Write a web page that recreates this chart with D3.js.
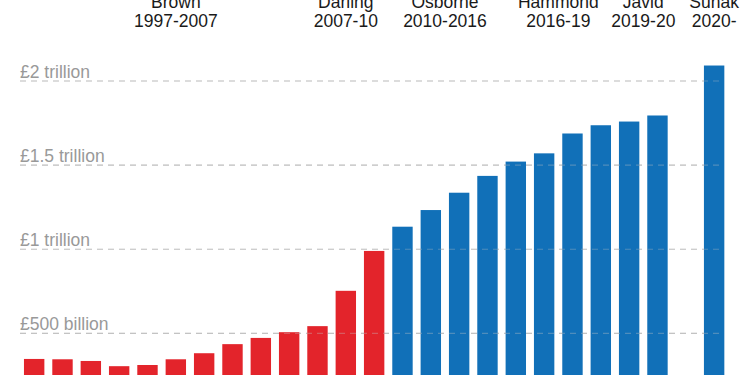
<!DOCTYPE html>
<html>
<head>
<meta charset="utf-8">
<script src="https://cdn.jsdelivr.net/npm/d3@7"></script>
<style>
  html, body { margin: 0; padding: 0; background: #fff; }
  svg { display: block; font-family: "Liberation Sans", Arial, sans-serif; }
</style>
</head>
<body>
<div id="chart"></div>
<script>
// Public sector debt by fiscal year, £ billion
const years = ['1997-98', '1998-99', '1999-00', '2000-01', '2001-02', '2002-03', '2003-04',
    '2004-05', '2005-06', '2006-07', '2007-08', '2008-09', '2009-10',
    '2010-11', '2011-12', '2012-13', '2013-14', '2014-15', '2015-16', '2016-17',
    '2017-18', '2018-19', '2019-20', 'gap', '2020-21'];
const labourDebt = [348, 346, 336, 305, 312, 346, 382, 436, 473, 507, 543, 753, 990];
const toryDebt = [1134, 1233, 1336, 1436, 1521, 1570, 1688, 1737, 1759, 1795, null, 2092];

const tickValues = [500, 1000, 1500, 2000];
const tickLabels = ['£500 billion', '£1 trillion', '£1.5 trillion', '£2 trillion'];

// Chancellor labels, placed over a run of years
const chancellors = ['Brown', 'Darling', 'Osborne', 'Hammond', 'Javid', 'Sunak'];
const terms = ['1997-2007', '2007-10', '2010-2016', '2016-19', '2019-20', '2020-'];
const termFrom = ['1997-98', '2007-08', '2010-11', '2014-15', '2018-19', '2020-21'];
const termTo = ['2007-08', '2009-10', '2013-14', '2017-18', '2019-20', '2020-21'];

const width = 750;
const height = 375;

const data = years.map((yr, i) => {
    let isLabour = i < labourDebt.length;
    let v = isLabour ? labourDebt[i] : toryDebt[i - labourDebt.length];
    return { year: yr, value: v, party: isLabour ? 'lab' : 'con' };
});

const svg = d3.select('#chart').append('svg')
    .attr('width', width)
    .attr('height', height);

const x = d3.scaleBand()
    .domain(years)
    .range([20, 728.3])
    .paddingInner(0.28)
    .paddingOuter(0.14);

// zero line sits below the bottom edge of the picture
const y = d3.scaleLinear()
    .domain([0, 2000])
    .range([417.5, 81]);

const colour = { lab: '#e3242b', con: '#1170b8' };

// gridlines behind the bars
const grid = svg.append('g').attr('class', 'grid');
grid.selectAll('line')
    .data(tickValues)
    .join('line')
    .attr('x1', 20)
    .attr('x2', 724)
    .attr('y1', d => y(d))
    .attr('y2', d => y(d))
    .attr('stroke', '#c4c4c4')
    .attr('stroke-width', 1.2)
    .attr('stroke-dasharray', '6,5');

svg.append('g').attr('class', 'bars')
    .selectAll('rect')
    .data(data.filter(d => d.value != null))
    .join('rect')
    .attr('x', d => x(d.year))
    .attr('width', x.bandwidth())
    .attr('y', d => y(d.value))
    .attr('height', d => y(0) - y(d.value))
    .attr('fill', d => colour[d.party]);

// faint copy of the gridlines on top, as in the original
svg.append('g').attr('class', 'grid-over')
    .selectAll('line')
    .data(tickValues)
    .join('line')
    .attr('x1', 20)
    .attr('x2', 724)
    .attr('y1', d => y(d))
    .attr('y2', d => y(d))
    .attr('stroke', '#c4c4c4')
    .attr('stroke-opacity', 0.35)
    .attr('stroke-width', 1.2)
    .attr('stroke-dasharray', '6,5');

svg.append('g').attr('class', 'y-labels')
    .selectAll('text')
    .data(tickValues)
    .join('text')
    .attr('x', 20)
    .attr('y', d => y(d) - 3.5)
    .attr('fill', '#999')
    .attr('font-size', 17.5)
    .text((d, i) => tickLabels[i]);

// chancellor names + terms
const heads = svg.append('g').attr('class', 'chancellors')
    .selectAll('text')
    .data(chancellors)
    .join('text')
    .attr('text-anchor', 'middle')
    .attr('fill', '#1a1a1a')
    .attr('font-size', 17.5);

heads.each(function (name, i) {
    let cx = (x(termFrom[i]) + x(termTo[i]) + x.bandwidth()) / 2;
    let t = d3.select(this);
    t.append('tspan').attr('x', cx).attr('y', 8).text(name);
    t.append('tspan').attr('x', cx).attr('y', 27).text(terms[i]);
});
</script>
</body>
</html>
